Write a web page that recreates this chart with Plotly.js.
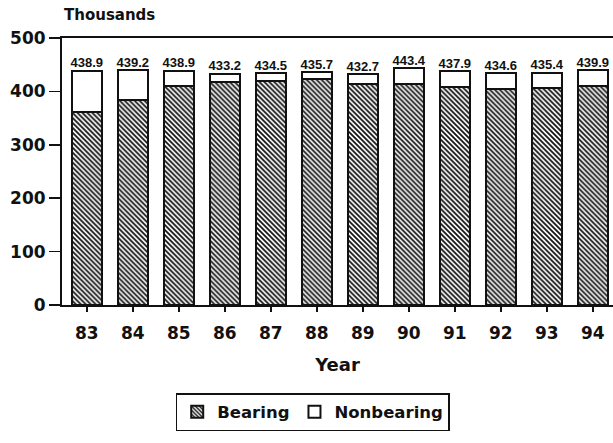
<!DOCTYPE html>
<html>
<head>
<meta charset="utf-8">
<script src="https://cdn.plot.ly/plotly-3.0.1.min.js"></script>
<style>html,body{margin:0;padding:0;background:#fff;}#chart{width:613px;height:443px;}</style>
</head>
<body>
<div id="chart"></div>
<script>
var years = ["83","84","85","86","87","88","89","90","91","92","93","94"];
var bearing = [362, 383, 410, 418, 420, 423, 414, 413, 408, 404, 406, 410];
var totals = [438.9, 439.2, 438.9, 433.2, 434.5, 435.7, 432.7, 443.4, 437.9, 434.6, 435.4, 439.9];
var totalLabels = ["438.9","439.2","438.9","433.2","434.5","435.7","432.7","443.4","437.9","434.6","435.4","439.9"];
var nonbearing = totals.map(function(t, i){ return +(t - bearing[i]).toFixed(1); });

var heavy = "DejaVu Sans, Liberation Sans, sans-serif";

var traces = [
  {
    type: "bar", name: "Bearing", x: years, y: bearing, width: 0.66,
    marker: {color: "#ffffff", line: {color: "#111", width: 2},
      pattern: {shape: "\\", fgcolor: "#111", bgcolor: "#ffffff", size: 3.5, solidity: 0.5}},
    hoverinfo: "skip"
  },
  {
    type: "bar", name: "Nonbearing", x: years, y: nonbearing, width: 0.66,
    marker: {color: "#ffffff", line: {color: "#111", width: 2}},
    hoverinfo: "skip"
  },
  {
    type: "scatter", mode: "text", x: years, y: totals, text: totalLabels,
    textposition: "top center", showlegend: false, hoverinfo: "skip",
    textfont: {family: "Liberation Sans, Arial, sans-serif", size: 13, color: "#111", weight: "bold"}
  }
];

var layout = {
  width: 613, height: 443,
  margin: {l: 62, r: 0, t: 38, b: 138},
  paper_bgcolor: "#fff", plot_bgcolor: "#fff",
  barmode: "stack",
  showlegend: true,
  font: {family: heavy, color: "#111"},
  xaxis: {
    type: "category", range: [-0.54, 11.44],
    showline: true, linecolor: "#111", linewidth: 2, mirror: true,
    ticks: "outside", ticklen: 5, tickwidth: 1.5, tickcolor: "#111",
    ticklabelstandoff: 7,
    tickfont: {family: heavy, size: 17, color: "#111", weight: "bold"},
    showgrid: false, zeroline: false,
    title: {text: "Year", standoff: 16, font: {family: heavy, size: 18, color: "#111", weight: "bold"}}
  },
  yaxis: {
    range: [0, 500], tickvals: [0, 100, 200, 300, 400, 500],
    showline: true, linecolor: "#111", linewidth: 2,
    ticks: "outside", ticklen: 11, tickwidth: 1.5, tickcolor: "#111",
    tickfont: {family: heavy, size: 17, color: "#111", weight: "bold"},
    showgrid: false, zeroline: false
  },
  legend: {
    orientation: "h", x: 0.455, xanchor: "center", y: -0.33, yanchor: "top",
    bordercolor: "#111", borderwidth: 1.5, bgcolor: "#fff",
    font: {family: heavy, size: 16.5, color: "#111", weight: "bold"},
    traceorder: "normal"
  },
  annotations: [
    {text: "Thousands", xref: "paper", yref: "paper", x: 0, y: 1, xanchor: "left", yanchor: "bottom",
     yshift: 12, showarrow: false, font: {family: heavy, size: 15, color: "#111", weight: "bold"}}
  ]
};

Plotly.newPlot("chart", traces, layout, {displayModeBar: false, staticPlot: true});
</script>
</body>
</html>
